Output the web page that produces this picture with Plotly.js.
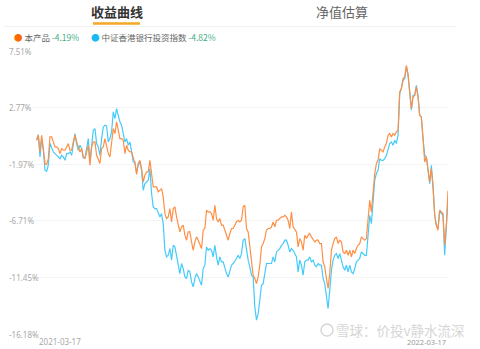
<!DOCTYPE html>
<html>
<head>
<meta charset="utf-8">
<script src="https://cdn.plot.ly/plotly-3.0.1.min.js"></script>
<style>html,body{margin:0;padding:0;background:#fff;}#chart{width:480px;height:349px;}</style>
</head>
<body>
<div id="chart"></div>
<script>
// Data (percent returns), sampled left to right
var productName = "本产品";
var indexName = "中证香港银行投资指数";
var productFinal = "-4.19%";
var indexFinal = "-4.82%";
var startDate = "2021-03-17";
var endDate = "2022-03-17";
var yTickVals = [7.51, 2.77, -1.97, -6.71, -11.45, -16.18];
var yTickText = ["7.51%", "2.77%", "-1.97%", "-6.71%", "-11.45%", "-16.18%"];

var productSeries = [
 0.04,0.46,-0.94,0.46,-0.66,-1.91,-2.00,-1.50,0.32,0.32,-0.10,-0.52,-0.52,-0.66,-1.08,-0.66,-0.80,-0.80,-0.52,-0.24,
 -0.80,-0.80,-0.10,0.46,-0.10,-0.52,-0.94,-0.66,-1.36,-1.50,-0.94,-0.38,-2.05,-0.52,-0.10,-0.10,-1.22,-1.64,-1.91,-0.66,
 -0.52,0.18,-0.38,-1.08,-1.36,-0.38,1.01,0.60,1.57,0.88,0.18,0.18,0.04,-1.08,-0.38,-0.80,-0.94,-0.94,-1.36,-1.91,
 -2.83,-1.91,-1.64,
 -2.33,-3.45,-2.89,-2.61,-2.61,-1.64,-2.89,-3.87,-3.87,-3.87,-4.29,-4.15,-4.01,-4.70,-6.10,-6.52,-6.38,-5.68,-6.80,-5.68,
 -5.54,-6.38,-7.07,-7.63,-7.21,-7.07,-7.91,-8.33,-7.63,-7.63,-8.47,-9.17,-8.47,-8.05,-8.33,-8.75,-9.03,-7.49,-7.35,-5.82,
 -5.96,-5.96,-6.10,-6.66,-5.40,-6.52,-6.80,-6.52,-7.07,-7.07,-7.49,-7.91,-8.33,-7.77,-7.35,-7.35,-7.07,-6.80,-6.66,-6.80,
 -6.66,-5.54,-5.40,
 -7.35,-7.63,-8.75,-10.00,-11.26,-11.54,-11.96,-11.40,-10.42,-8.89,-8.61,-8.19,-7.49,-7.35,-7.35,-7.21,-6.80,-7.21,-6.66,-6.66,
 -6.52,-6.38,-6.38,-6.24,-6.38,-6.66,-7.35,-5.96,-7.21,-7.49,-7.63,-8.89,-8.19,-8.47,-9.17,-7.91,-8.19,-7.91,-7.77,-8.05,
 -8.33,-8.47,-8.33,-8.33,-8.61,-8.61,-10.14,-10.56,-11.54,-12.37,-11.12,-9.17,-8.61,-8.19,-8.05,-8.61,-8.33,-8.47,-9.31,-9.45,
 -9.17,-9.59,-9.17,
 -9.73,-9.17,-9.45,-9.03,-8.75,-8.61,-8.05,-8.19,-8.33,-8.19,-6.52,-4.98,-5.96,-4.01,-2.75,-1.92,-1.64,-0.66,-0.80,-0.94,
 -0.52,-0.24,0.46,0.60,0.32,0.60,0.46,0.74,0.88,4.08,4.36,5.20,5.34,6.31,5.62,4.08,2.69,3.66,3.80,4.50,
 3.66,2.13,1.99,0.18,-1.78,-1.36,-2.33,-3.45,-2.33,-3.87,-6.24,-7.08,-7.49,-5.82,-5.96,-6.10,-8.75,-7.08,-4.19
];

var indexSeries = [
 0.04,0.51,-1.36,0.18,-0.80,-2.47,-2.56,-2.05,-0.24,-0.66,-0.94,-1.08,-1.22,-1.36,-1.50,-1.22,-1.36,-1.64,-1.08,-1.08,
 -0.94,-1.22,-0.10,0.60,-0.24,-0.80,-0.38,-0.66,-1.44,-1.44,-0.66,0.18,-1.78,-0.10,0.88,1.01,-0.24,-0.52,-1.22,0.18,
 1.15,1.29,1.24,-0.10,0.18,0.74,2.41,1.85,2.69,2.13,1.57,1.29,0.46,-0.10,0.18,-0.38,-0.10,-1.08,-1.78,-1.78,
 -2.67,-2.05,-1.78,
 -2.47,-4.15,-3.59,-3.45,-3.31,-2.33,-4.42,-5.54,-5.68,-5.68,-6.10,-6.38,-6.10,-6.94,-9.17,-9.72,-9.59,-9.03,-10.00,-8.75,
 -8.89,-9.72,-10.42,-11.12,-10.28,-10.70,-11.40,-11.54,-10.84,-10.98,-11.82,-12.24,-11.54,-11.12,-11.40,-11.82,-12.10,-10.70,-10.42,-8.89,
 -9.17,-9.03,-9.17,-9.72,-8.75,-9.72,-10.42,-9.72,-10.14,-10.14,-10.70,-11.12,-11.40,-10.84,-10.42,-10.28,-10.00,-9.86,-9.59,-9.86,
 -9.45,-8.33,-8.19,
 -9.17,-10.00,-10.56,-11.26,-11.40,-13.91,-15.02,-14.47,-13.35,-12.10,-11.96,-11.12,-10.28,-10.28,-10.28,-10.28,-9.72,-10.14,-9.31,-9.17,
 -9.03,-8.75,-8.61,-8.33,-8.33,-8.75,-9.31,-9.03,-9.17,-9.45,-9.72,-10.98,-10.00,-10.42,-11.26,-10.14,-10.00,-10.00,-9.72,-10.14,
 -10.00,-10.42,-10.56,-10.28,-10.42,-10.42,-11.54,-11.96,-13.07,-14.05,-12.51,-10.84,-10.00,-9.59,-9.45,-9.86,-9.45,-10.00,-10.56,-10.84,
 -10.42,-10.98,-10.42,
 -10.98,-11.12,-10.70,-10.14,-10.00,-9.86,-9.31,-9.45,-9.59,-9.59,-7.63,-6.24,-6.94,-4.84,-3.31,-2.75,-2.47,-1.50,-1.64,-1.64,
 -1.50,-1.22,-0.66,-0.24,-0.10,-0.38,0.04,-0.24,0.46,3.94,4.36,5.06,5.20,6.17,5.48,4.08,2.55,3.80,3.80,4.64,
 3.80,2.13,1.99,0.18,-1.22,-1.36,-2.47,-3.59,-2.05,-3.73,-6.24,-7.08,-7.35,-5.82,-6.10,-6.24,-9.59,-7.35,-4.82
];

var orange = "#ff8f45";
var blue = "#45cbfb";
var green = "#3fae84";

var xs = productSeries.map(function(_, i){ return i; });
var lastIdx = xs.length - 1;

// geometry helpers (plot area in px)
var L = 33, R = 448, T = 51, B = 334;
function px(x){ return (x - L) / (R - L); }
function py(y){ return (B - y) / (B - T); }

var traces = [
  {x: xs, y: indexSeries, type: "scatter", mode: "lines", line: {color: blue, width: 1.2}, hoverinfo: "skip"},
  {x: xs, y: productSeries, type: "scatter", mode: "lines", line: {color: orange, width: 1.2}, hoverinfo: "skip"}
];

var cjk = "'Noto Sans CJK SC', 'Noto Sans', sans-serif";
var ann = [];
yTickVals.forEach(function(v, i){
  ann.push({xref: "paper", yref: "y", x: px(7), y: v, xanchor: "left", yanchor: "middle",
    text: yTickText[i], showarrow: false, font: {size: 8, color: "#a8a8a8", family: "'Noto Sans', sans-serif"}});
});
ann.push({xref: "paper", yref: "paper", x: px(334), y: py(330), xanchor: "left", yanchor: "middle",
  text: "雪球：价投v静水流深", showarrow: false, font: {size: 13.5, color: "#d6d6d6", family: cjk}});
ann.push({xref: "x", yref: "paper", x: 0, y: py(341.5), xanchor: "left", yanchor: "middle",
  text: startDate, showarrow: false, font: {size: 8, color: "#a8a8a8", family: "'Noto Sans', sans-serif"}});
ann.push({xref: "x", yref: "paper", x: lastIdx, y: py(342), xanchor: "right", yanchor: "middle",
  text: endDate, showarrow: false, font: {size: 7.5, color: "#999", family: "'Noto Sans', sans-serif"}});
ann.push({xref: "paper", yref: "paper", x: px(116.5), y: py(12), xanchor: "center", yanchor: "middle",
  text: "<b>收益曲线</b>", showarrow: false, font: {size: 13, color: "#333", family: cjk}});
ann.push({xref: "paper", yref: "paper", x: px(341.5), y: py(12), xanchor: "center", yanchor: "middle",
  text: "净值估算", showarrow: false, font: {size: 13, color: "#666", family: cjk}});
ann.push({xref: "paper", yref: "paper", x: px(12), y: py(37), xanchor: "left", yanchor: "middle",
  text: "<span style='color:#ff6a00'>●</span> " + productName + " <span style='color:" + green + "'>" + productFinal + "</span>",
  showarrow: false, font: {size: 8.5, color: "#666", family: cjk}});
ann.push({xref: "paper", yref: "paper", x: px(89), y: py(37), xanchor: "left", yanchor: "middle",
  text: "<span style='color:#1ab8f5'>●</span> " + indexName + " <span style='color:" + green + "'>" + indexFinal + "</span>",
  showarrow: false, font: {size: 8.5, color: "#666", family: cjk}});

var shapes = [
  {type: "line", xref: "paper", yref: "paper", x0: px(93), x1: px(140), y0: py(23.5), y1: py(23.5),
   line: {color: "#f5a623", width: 2.5}},
  {type: "line", xref: "paper", yref: "paper", x0: px(4), x1: px(456), y0: py(26.5), y1: py(26.5),
   line: {color: "#f2f2f2", width: 1}},
  {type: "circle", xref: "paper", yref: "paper", x0: px(321), x1: px(333), y0: py(324), y1: py(336),
   line: {color: "#d6d6d6", width: 1.5}}
];

var layout = {
  width: 480, height: 349,
  margin: {l: L, r: 480 - R, t: T, b: 349 - B, pad: 0},
  paper_bgcolor: "#fff", plot_bgcolor: "#fff",
  showlegend: false,
  xaxis: {range: [-2.2, lastIdx], showgrid: false, zeroline: false, showticklabels: false, showline: false, fixedrange: true},
  yaxis: {range: [yTickVals[yTickVals.length - 1], yTickVals[0]], tickvals: yTickVals, showticklabels: false,
          showgrid: true, gridcolor: "#f3f3f3", gridwidth: 1, zeroline: false, showline: false, fixedrange: true},
  annotations: ann,
  shapes: shapes
};

Plotly.newPlot("chart", traces, layout, {displayModeBar: false, staticPlot: true});
</script>
</body>
</html>
